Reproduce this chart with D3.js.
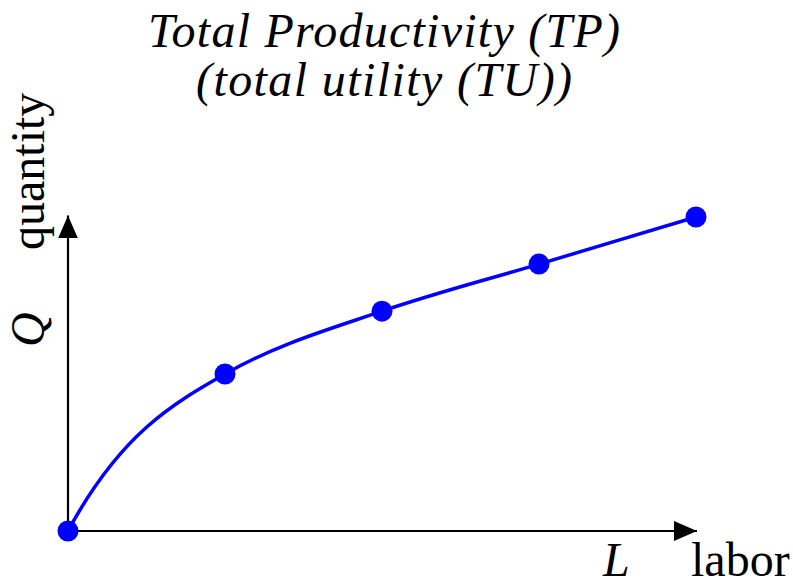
<!DOCTYPE html>
<html>
<head>
<meta charset="utf-8">
<script src="https://cdn.jsdelivr.net/npm/d3@7"></script>
<style>
  body { margin: 0; background: #fff; }
  text { font-family: "Liberation Serif", "DejaVu Serif", serif; fill: #000; }
</style>
</head>
<body>
<div id="chart"></div>
<script>
// data
const labor = [0, 1, 2, 3, 4];
const quantity = [0, 10, 14, 17, 20];
const titleLines = ["Total Productivity (TP)", "(total utility (TU))"];

const width = 793, height = 580;

const svg = d3.select("#chart")
  .append("svg")
  .attr("width", width)
  .attr("height", height);

const x = d3.scaleLinear().domain([0, 4]).range([68, 696]);
const y = d3.scaleLinear().domain([0, 20]).range([531, 217]);

// smooth hermite curve: harmonic-mean tangents inside, end tangents keep the
// neighbouring segment free of curvature at its inner point
function curveSmooth(context) {
  return {
    areaStart() {}, areaEnd() {},
    lineStart() { this.xs = []; this.ys = []; },
    point(px, py) { this.xs.push(+px); this.ys.push(+py); },
    lineEnd() {
      const xs = this.xs, ys = this.ys, n = xs.length;
      if (!n) return;
      context.moveTo(xs[0], ys[0]);
      if (n < 2) return;
      const s = d3.range(n - 1).map(i => (ys[i + 1] - ys[i]) / (xs[i + 1] - xs[i]));
      const m = new Array(n);
      for (let i = 1; i < n - 1; i++) {
        m[i] = s[i - 1] * s[i] > 0 ? 2 / (1 / s[i - 1] + 1 / s[i]) : 0;
      }
      m[0] = n > 2 ? 3 * s[0] - 2 * m[1] : s[0];
      m[n - 1] = n > 2 ? 3 * s[n - 2] - 2 * m[n - 2] : s[0];
      for (let i = 0; i < n - 1; i++) {
        const h = (xs[i + 1] - xs[i]) / 3;
        context.bezierCurveTo(
          xs[i] + h, ys[i] + m[i] * h,
          xs[i + 1] - h, ys[i + 1] - m[i + 1] * h,
          xs[i + 1], ys[i + 1]);
      }
    }
  };
}

// arrow heads
const defs = svg.append("defs");
defs.append("marker")
  .attr("id", "arrow")
  .attr("viewBox", "0 0 23 20")
  .attr("refX", 23)
  .attr("refY", 10)
  .attr("markerWidth", 23)
  .attr("markerHeight", 20)
  .attr("markerUnits", "userSpaceOnUse")
  .attr("orient", "auto")
  .append("path")
  .attr("d", "M0,0 L23,10 L0,20 Z")
  .attr("fill", "#000");

// axes
svg.append("line")
  .attr("x1", x(0)).attr("y1", y(0))
  .attr("x2", x(4) + 1).attr("y2", y(0))
  .attr("stroke", "#000").attr("stroke-width", 2.2)
  .attr("marker-end", "url(#arrow)");

svg.append("line")
  .attr("x1", x(0)).attr("y1", y(0))
  .attr("x2", x(0)).attr("y2", y(20.1))
  .attr("stroke", "#000").attr("stroke-width", 2.2)
  .attr("marker-end", "url(#arrow)");

// curve
const pts = labor.map((l, i) => [l, quantity[i]]);
const line = d3.line()
  .x(d => x(d[0]))
  .y(d => y(d[1]))
  .curve(curveSmooth);

svg.append("path")
  .datum(pts)
  .attr("d", line)
  .attr("fill", "none")
  .attr("stroke", "#0000ff")
  .attr("stroke-width", 3.5);

svg.selectAll("circle.pt")
  .data(pts)
  .enter()
  .append("circle")
  .attr("class", "pt")
  .attr("cx", d => x(d[0]))
  .attr("cy", d => y(d[1]))
  .attr("r", 10.5)
  .attr("fill", "#0000ff");

// title
svg.selectAll("text.title")
  .data(titleLines)
  .enter()
  .append("text")
  .attr("class", "title")
  .attr("x", 384)
  .attr("y", (d, i) => 47 + i * 49)
  .attr("text-anchor", "middle")
  .attr("font-size", 48)
  .attr("font-style", "italic")
  .attr("textLength", (d, i) => i === 0 ? 472 : 376)
  .text(d => d);

// axis labels
svg.append("text")
  .attr("x", 603).attr("y", 576)
  .attr("font-size", 48)
  .attr("font-style", "italic")
  .text("L");

svg.append("text")
  .attr("x", 691).attr("y", 576)
  .attr("font-size", 48)
  .text("labor");

svg.append("text")
  .attr("transform", "translate(44,347) rotate(-90)")
  .attr("font-size", 48)
  .attr("font-style", "italic")
  .text("Q");

svg.append("text")
  .attr("transform", "translate(44,250) rotate(-90)")
  .attr("font-size", 48)
  .text("quantity");
</script>
</body>
</html>
